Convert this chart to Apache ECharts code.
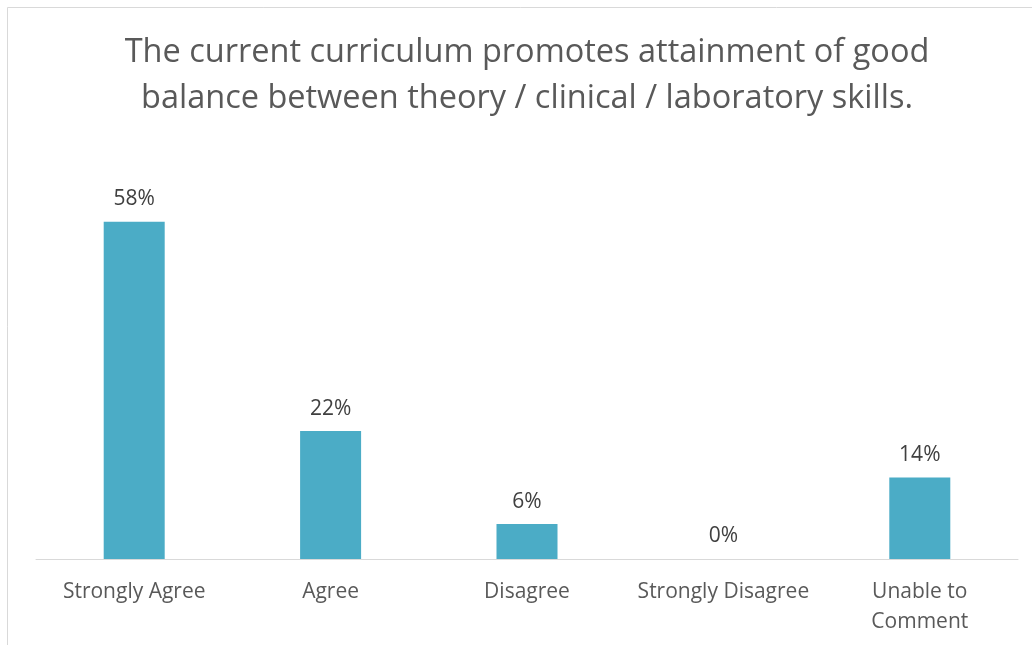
<!DOCTYPE html>
<html>
<head>
<meta charset="utf-8">
<script src="https://cdn.jsdelivr.net/npm/echarts@6/dist/echarts.min.js"></script>
<style>
html,body{margin:0;padding:0;background:#fff;}
#chart{width:1032px;height:645px;}
</style>
</head>
<body>
<div id="chart"></div>
<script>
var titleLines = ['The current curriculum promotes attainment of good', 'balance between theory / clinical / laboratory skills.'];
var categories = ['Strongly Agree', 'Agree', 'Disagree', 'Strongly Disagree', 'Unable to\nComment'];
var values = [58, 22, 6, 0, 14];

var chart = echarts.init(document.getElementById('chart'));
var font = '"Open Sans", sans-serif';
chart.setOption({
  animation: false,
  backgroundColor: '#fff',
  graphic: [
    {type: 'rect', shape: {x: 7.5, y: 7.5, width: 1100, height: 700}, style: {fill: 'none', stroke: '#D9D9D9', lineWidth: 1}, silent: true},
    {type: 'text', x: 527, y: 76, style: {text: titleLines.join('\n'), fontFamily: font, fontSize: 32.5, lineHeight: 46, fill: '#595959', textAlign: 'center', textVerticalAlign: 'middle'}}
  ],
  grid: {left: 36, right: 14, top: 152, bottom: 86, containLabel: false},
  xAxis: {
    type: 'category',
    data: categories,
    axisLine: {lineStyle: {color: '#D9D9D9', width: 1}},
    axisTick: {show: false},
    axisLabel: {color: '#595959', fontFamily: font, fontSize: 21, lineHeight: 30, margin: 18, interval: 0}
  },
  yAxis: {type: 'value', min: 0, max: 70, show: false, splitLine: {show: false}},
  series: [{
    type: 'bar',
    data: values,
    barWidth: 61,
    itemStyle: {color: '#4BACC6'},
    label: {show: true, position: 'top', distance: 12, formatter: '{c}%', color: '#404040', fontFamily: font, fontSize: 21}
  }]
});
</script>
</body>
</html>
